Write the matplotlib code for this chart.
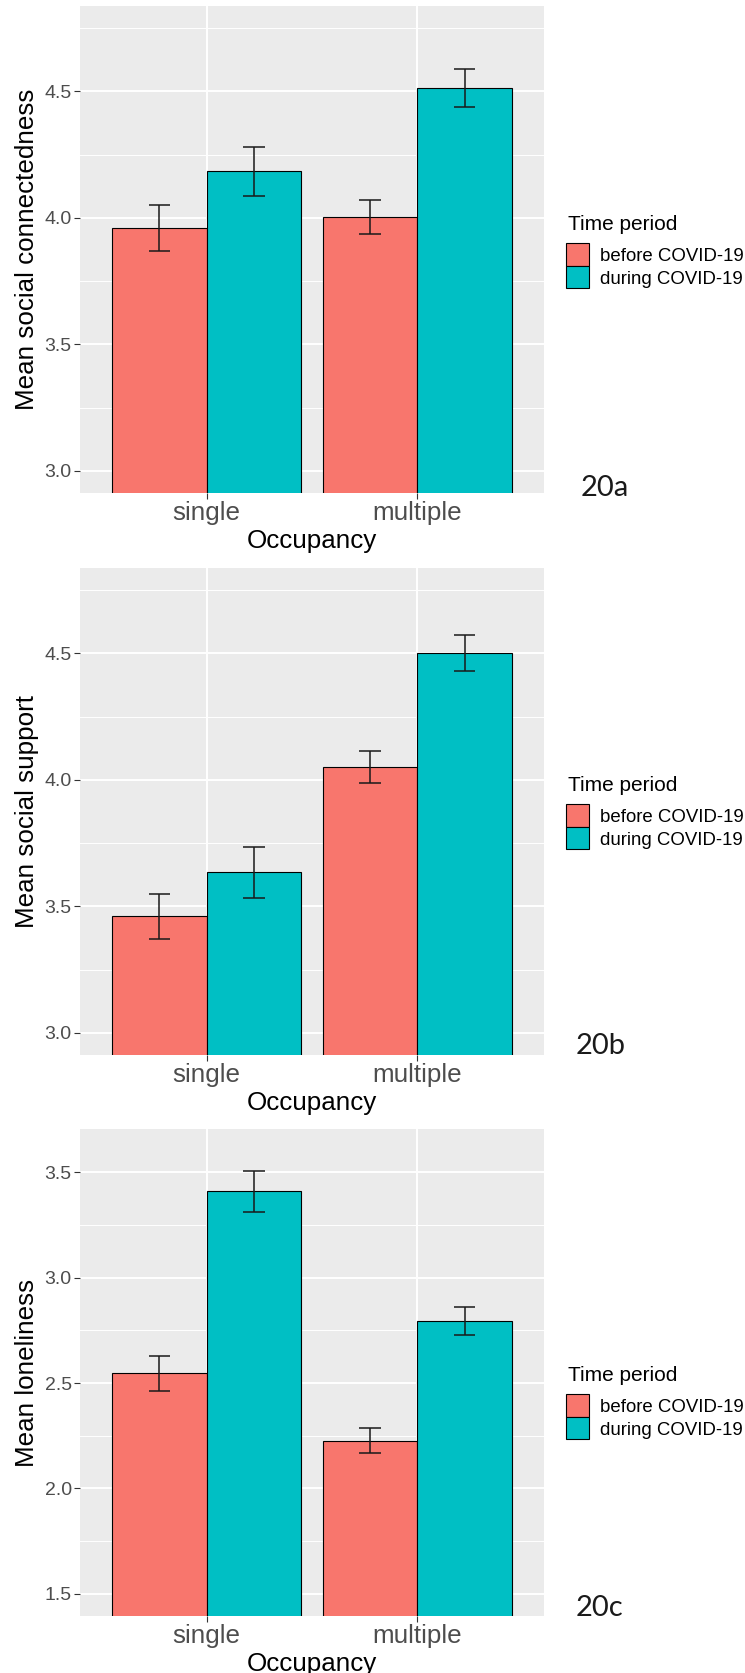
import matplotlib
matplotlib.use("Agg")
import matplotlib.pyplot as plt
from matplotlib.patches import Rectangle
from matplotlib.ticker import MultipleLocator

W, H = 745, 1673

occupancy = ["single", "multiple"]
periods = ["before COVID-19", "during COVID-19"]
period_colors = ["#F8766D", "#00BFC4"]

# mean social connectedness (20a)
conn_before = [3.96, 4.005]
conn_before_se = [0.09, 0.067]
conn_during = [4.184, 4.515]
conn_during_se = [0.098, 0.075]

# mean social support (20b)
supp_before = [3.46, 4.051]
supp_before_se = [0.089, 0.064]
supp_during = [3.634, 4.502]
supp_during_se = [0.099, 0.07]

# mean loneliness (20c)
lone_before = [2.547, 2.227]
lone_before_se = [0.083, 0.058]
lone_during = [3.409, 2.793]
lone_during_se = [0.098, 0.067]

plt.rcParams["font.family"] = ["Liberation Sans", "DejaVu Sans"]


def fx(px):
    return px / W


def fy(px):
    return 1 - px / H


def draw_panel(fig, top, ylabel, before, before_se, during, during_se,
               ylim, tag, tag_x, tag_y, legend_top):
    left, right, height = 80, 544, 487
    ax = fig.add_axes([fx(left), fy(top + height), (right - left) / W, height / H])
    ax.set_facecolor("#EBEBEB")
    for s in ax.spines.values():
        s.set_visible(False)

    bw = 0.45
    xs = range(1, len(occupancy) + 1)
    series = [(before, before_se, -bw / 2), (during, during_se, bw / 2)]
    for (vals, se, off), col in zip(series, period_colors):
        pos = [x + off for x in xs]
        ax.bar(pos, vals, width=bw, color=col, edgecolor="black",
               linewidth=0.8, zorder=3)
        lo = [v - e for v, e in zip(vals, se)]
        hi = [v + e for v, e in zip(vals, se)]
        ax.vlines(pos, lo, hi, color="#1a1a1a", linewidth=1.1, zorder=4)
        for p, a, b in zip(pos, lo, hi):
            ax.hlines([a, b], p - 0.05, p + 0.05, color="#1a1a1a",
                      linewidth=1.1, zorder=4)

    ax.set_xlim(0.4, 2.6)
    ax.set_ylim(*ylim)
    ax.yaxis.set_major_locator(MultipleLocator(0.5))
    ax.yaxis.set_minor_locator(MultipleLocator(0.25))
    ax.yaxis.set_major_formatter(matplotlib.ticker.FormatStrFormatter("%.1f"))
    ax.set_xticks(list(xs), occupancy)
    ax.grid(which="major", color="white", linewidth=1.4, zorder=0)
    ax.grid(which="minor", axis="y", color="white", linewidth=0.7, zorder=0)
    ax.set_axisbelow(True)
    ax.tick_params(axis="y", which="major", length=4.3, width=0.8, color="#333333",
                   labelsize=14, labelcolor="#4D4D4D", pad=1.7)
    ax.tick_params(axis="x", which="major", length=4.3, width=0.8, color="#333333",
                   labelsize=18.7, labelcolor="#4D4D4D", pad=15)
    ax.tick_params(which="minor", length=0)
    for lab in ax.get_xticklabels():
        lab.set_verticalalignment("baseline")

    fig.text(fx(27), fy(top + height / 2), ylabel, rotation=90, ha="center",
             va="center", fontsize=18.7, color="black")
    fig.text(fx(312), fy(top + height + 55.3), "Occupancy", ha="center",
             va="baseline", fontsize=18.7, color="black")
    fig.text(fx(tag_x), fy(tag_y), tag, ha="left", va="baseline",
             fontsize=21, color="#1A1A1A", family=["Lato", "DejaVu Sans"])

    # legend: title, then two stacked keys
    fig.text(fx(568), fy(legend_top - 13.2), "Time period", ha="left",
             va="baseline", fontsize=15, color="black")
    for i, (lab, col) in enumerate(zip(periods, period_colors)):
        ktop = legend_top + 22.5 * i
        fig.add_artist(Rectangle((fx(566), fy(ktop + 22.5)), 23 / W, 22.5 / H,
                                 transform=fig.transFigure, facecolor=col,
                                 edgecolor="black", linewidth=0.8))
        fig.text(fx(600), fy(ktop + 11.25 + 6.6), lab, ha="left",
                 va="baseline", fontsize=13.4, color="black")
    return ax


fig = plt.figure(figsize=(W / 100, H / 100), dpi=100)
draw_panel(fig, 6, "Mean social connectedness", conn_before, conn_before_se,
           conn_during, conn_during_se, (2.9125, 4.8375), "20a", 581, 495.5, 243.3)
draw_panel(fig, 568, "Mean social support", supp_before, supp_before_se,
           supp_during, supp_during_se, (2.9125, 4.8375), "20b", 576, 1054.5, 804.3)
draw_panel(fig, 1129, "Mean loneliness", lone_before, lone_before_se,
           lone_during, lone_during_se, (1.395, 3.705), "20c", 576, 1615.5, 1394.2)

fig.savefig("out.png", dpi=100, facecolor="white")
